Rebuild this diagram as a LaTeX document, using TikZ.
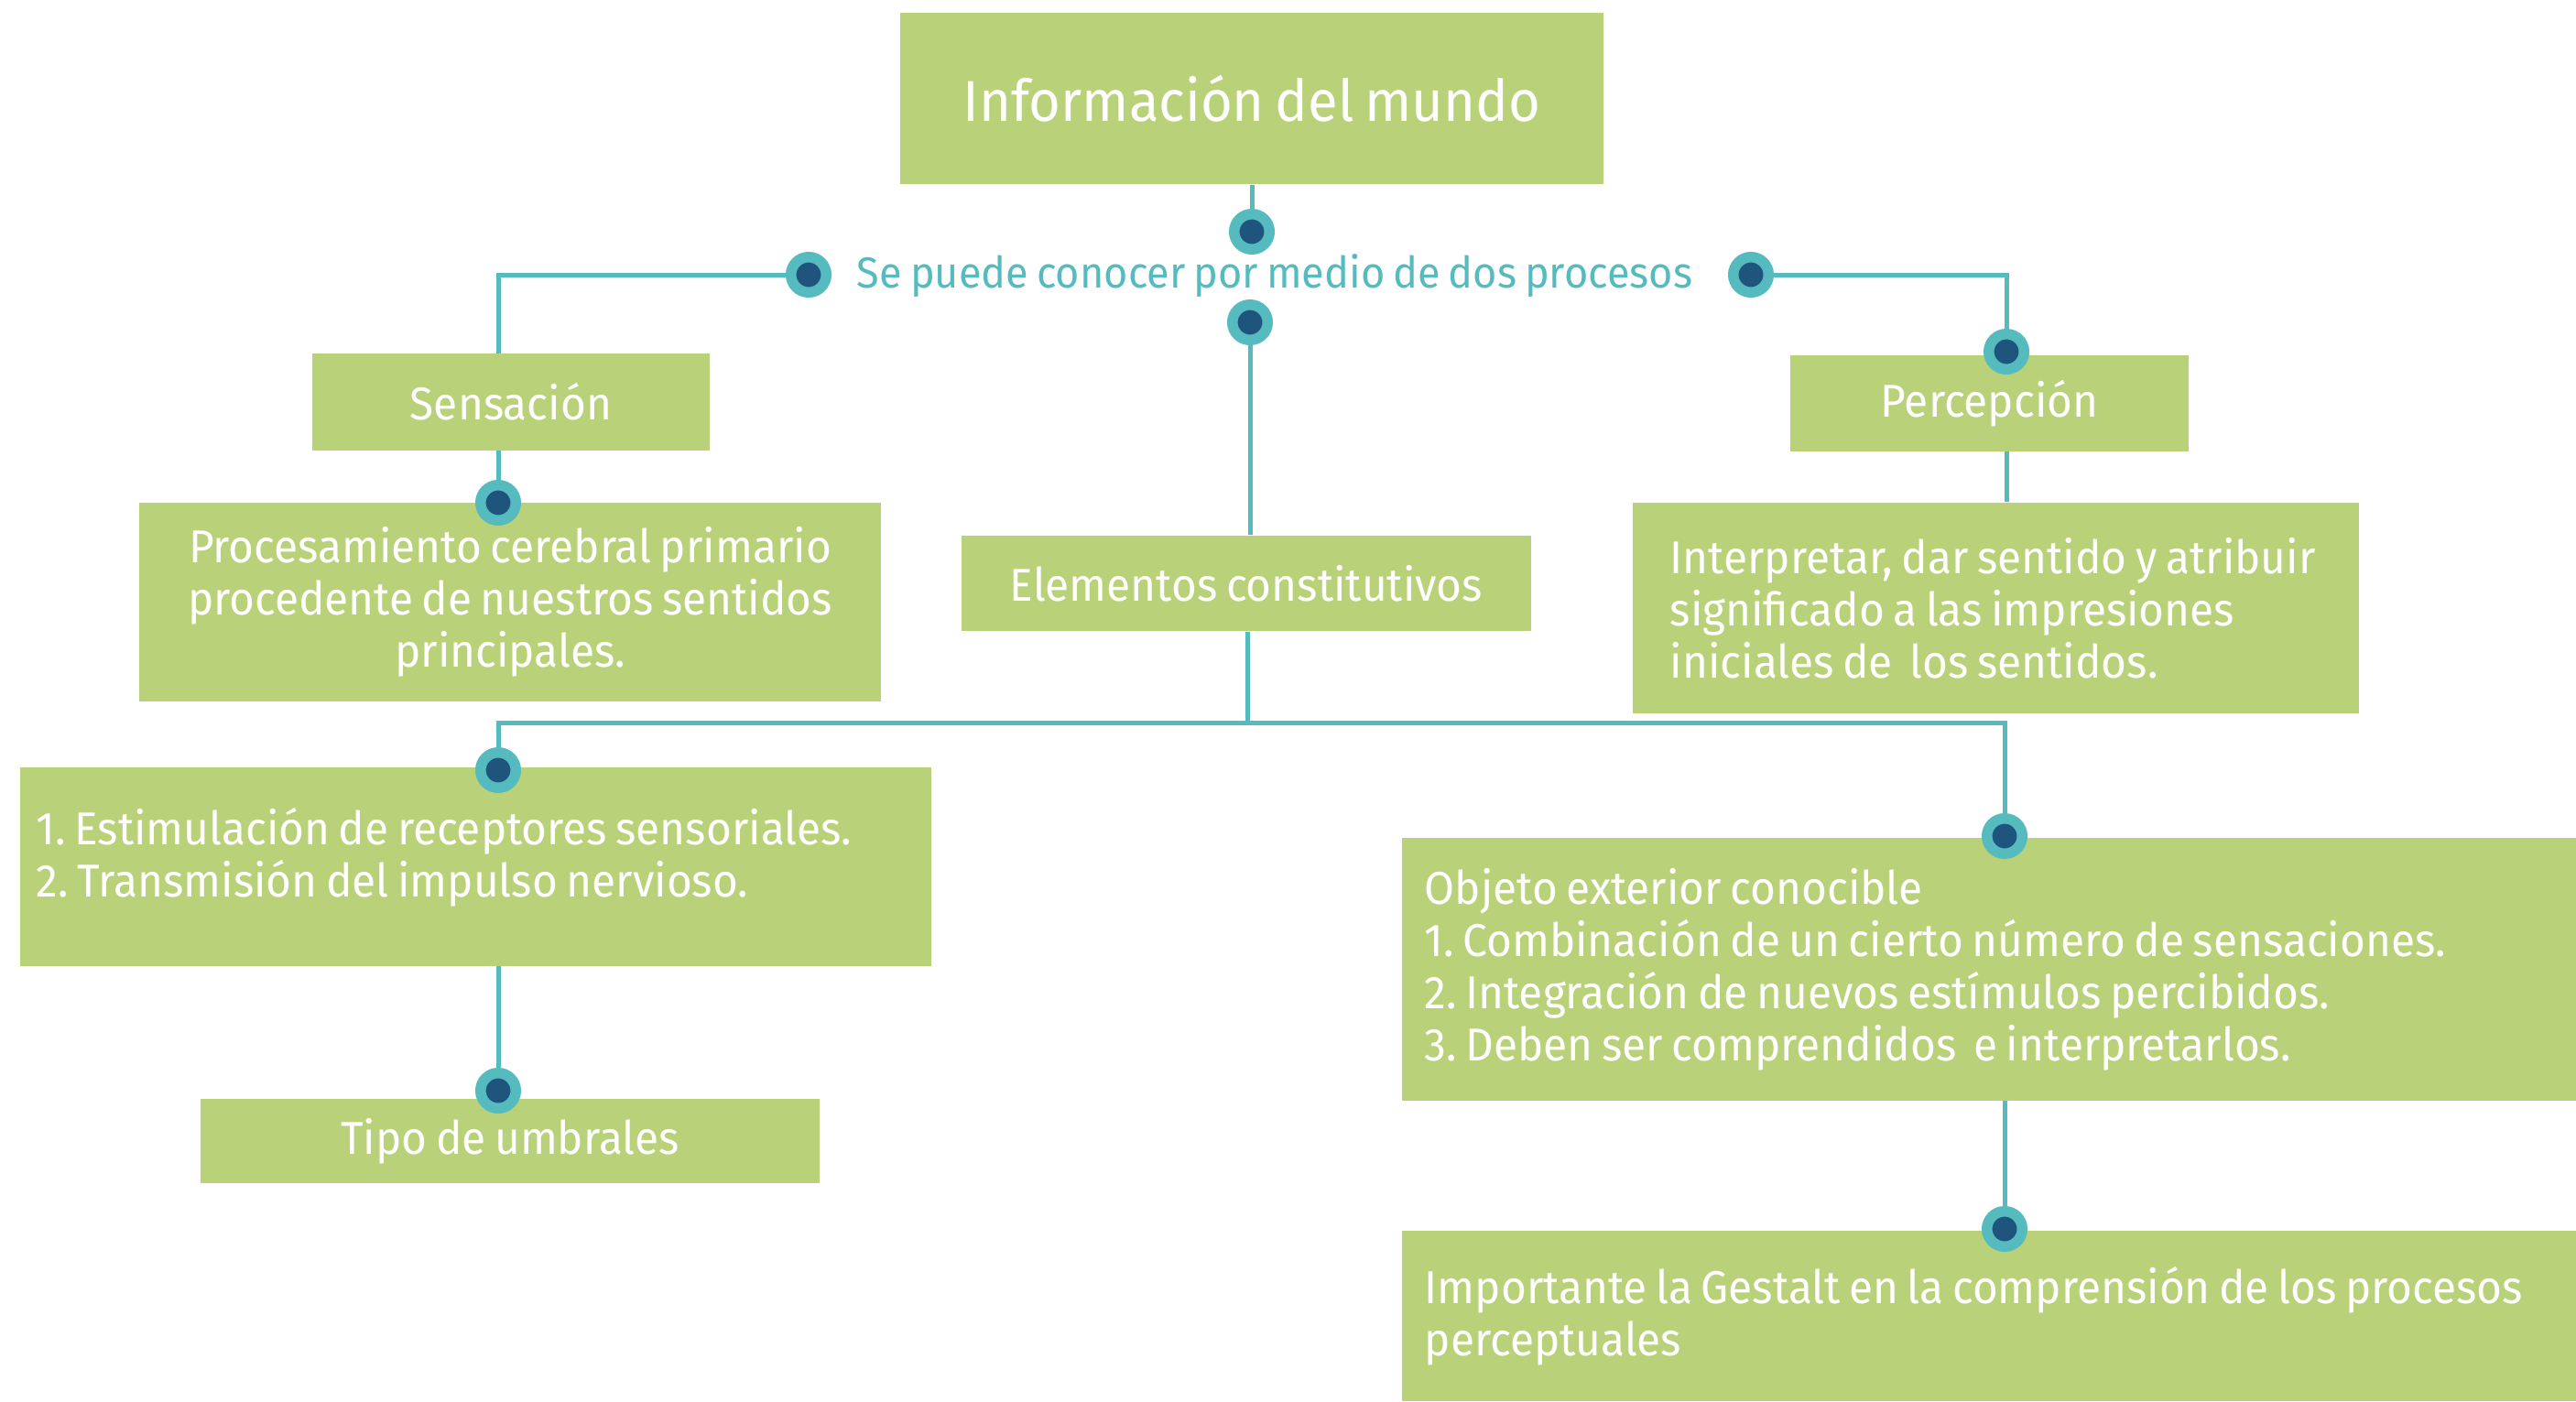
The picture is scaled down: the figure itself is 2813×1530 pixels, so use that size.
\documentclass[tikz,border=0pt]{standalone}
\usepackage{fontspec}
\setmainfont[FakeStretch=0.95, WordSpace=0.75]{Fira Sans}
\usetikzlibrary{positioning,backgrounds}
\definecolor{verde}{RGB}{185,210,122}
\definecolor{turquesa}{RGB}{86,187,190}
\definecolor{azul}{RGB}{31,84,125}
\newcommand{\letracaja}{\fontsize{14.3}{16.2}\selectfont\frenchspacing}

\begin{document}
\begin{tikzpicture}[x=0.01cm, y=-0.01cm,
        caja/.style={rectangle, fill=verde, text=white, inner sep=0pt, font=\letracaja},
        punto/.style={circle, fill=azul, draw=turquesa, line width=0.115cm, minimum size=0.385cm, inner sep=0pt},
        enlace/.style={draw=turquesa, line width=0.05cm}
    ]
        \useasboundingbox (0,0) rectangle (2813,1530);

        % Cajas
        \node[caja, minimum width=7.68cm, minimum height=1.87cm, font=\fontsize{17.9}{21}\selectfont] (mundo) at (1367,107.5) {Información del mundo};
        \node[text=turquesa, inner sep=0pt, font=\fontsize{13.5}{16.2}\selectfont] (procesos) at (1392,301) {Se puede conocer por medio de dos procesos};
        \node[caja, minimum width=4.34cm, minimum height=1.06cm] (sensacion) at (558,439) {Sensación};
        \node[caja, minimum width=8.10cm, minimum height=2.17cm, align=center] (procesamiento) at (557,657.5) {Procesamiento cerebral primario\\procedente de nuestros sentidos\\principales.};
        \node[caja, minimum width=4.35cm, minimum height=1.05cm] (percepcion) at (2172.5,440.5) {Percepción};
        \node[caja, text width=7.11cm, inner xsep=0.41cm, minimum height=2.30cm, align=flush left] (interpretar) at (2179.5,664) {Interpretar, dar sentido y atribuir\\significado a las impresiones\\iniciales de~ los sentidos.};
        \node[caja, minimum width=6.22cm, minimum height=1.04cm] (elementos) at (1361,637) {Elementos constitutivos};
        \node[caja, text width=9.59cm, inner xsep=0.18cm, minimum height=2.17cm, align=flush left] (estimulacion) at (519.5,946.5) {1. Estimulación de receptores sensoriales.\\2. Transmisión del impulso nervioso.\\[-0.25cm]\mbox{}};
        \node[caja, minimum width=6.76cm, minimum height=0.92cm] (umbrales) at (557,1246) {Tipo de umbrales};
        \node[caja, text width=13.5cm, inner xsep=0.25cm, minimum height=2.87cm, align=flush left, anchor=west] (objeto) at (1530,1058.5) {Objeto exterior conocible\\1. Combinación de un cierto número de sensaciones.\\2. Integración de nuevos estímulos percibidos.\\3. Deben ser comprendidos~ e interpretarlos.};
        \node[caja, text width=13.5cm, inner xsep=0.25cm, minimum height=1.86cm, align=flush left, anchor=west] (gestalt) at (1530,1437) {Importante la Gestalt en la comprensión de los procesos\\perceptuales};

        % Puntos
        \node[punto] (d-mundo) at (1367,253) {};
        \node[punto] (d-izq) at (883,300) {};
        \node[punto] (d-der) at (1912,300) {};
        \node[punto] (d-centro) at (1365,352) {};
        \node[punto] (d-sen) at (544,549) {};
        \node[punto] (d-per) at (2191,384) {};
        \node[punto] (d-est) at (544,841) {};
        \node[punto] (d-umb) at (544,1191) {};
        \node[punto] (d-obj) at (2189,913) {};
        \node[punto] (d-ges) at (2189,1342) {};
        \coordinate (cruce) at (1362,789);

        % Conexiones
        \begin{pgfonlayer}{background}
            \draw[enlace] (mundo) -- (d-mundo);
            \draw[enlace] (d-izq) -| (d-sen);
            \draw[enlace] (d-der) -| (d-per);
            \draw[enlace] (d-per) -- (d-per |- interpretar.north);
            \draw[enlace] (d-centro) -- (d-centro |- elementos.north);
            \draw[enlace] (elementos.south -| cruce) -- (cruce);
            \draw[enlace] (d-est) |- (cruce) -| (d-obj);
            \draw[enlace] (d-est) -- (d-umb);
            \draw[enlace] (d-obj) -- (d-ges);
        \end{pgfonlayer}
    \end{tikzpicture}
\end{document}
